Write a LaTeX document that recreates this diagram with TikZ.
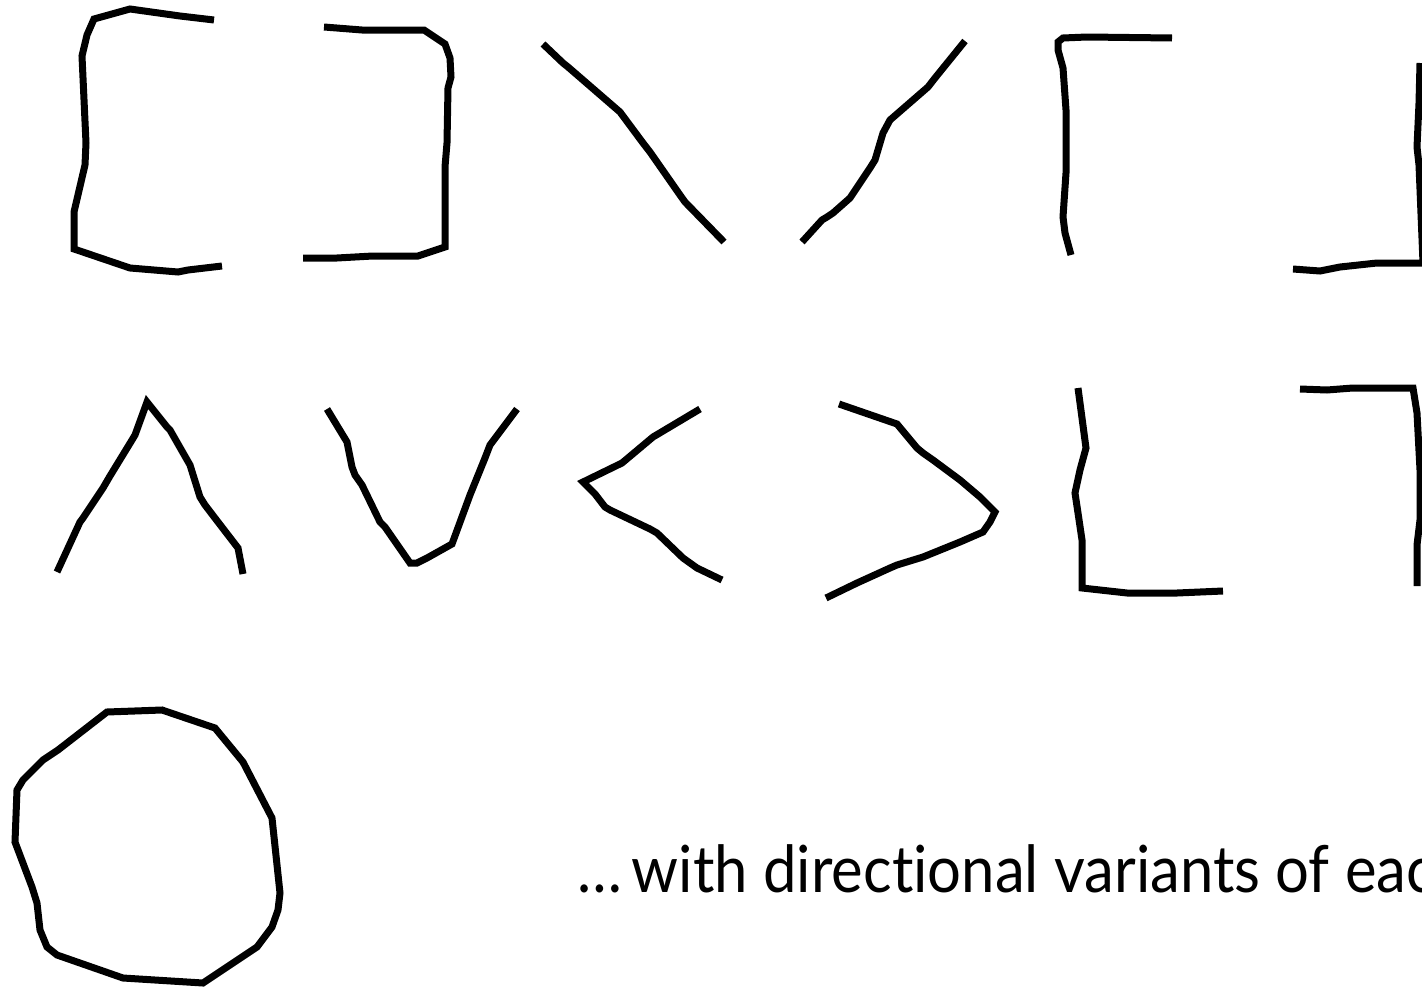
\documentclass[tikz,border=0pt]{standalone}
\usepackage{fontspec}
\setmainfont{Lato}[Ligatures={NoCommon}]
\tikzset{
  ink/.style={line width=7pt, black},
  lbl/.style={inner sep=0pt, font=\fontsize{65}{78}\selectfont},
}
\begin{document}
\begin{tikzpicture}[x=1pt, y=-1pt]
  \useasboundingbox (0,0) rectangle (1422,988);
  \clip (0,0) rectangle (1422,988);
  % top row
  \draw[ink] (214,20) -- (180,16) -- (130,9) -- (94,19) -- (87,35) -- (82,56) -- (86,143) -- (85,165) -- (74,212) -- (74,249) -- (130,268) -- (178,272) -- (188,270) -- (222,266);
  \draw[ink] (324,27) -- (362,30) -- (424,30) -- (445,44) -- (450,58) -- (451,77) -- (448,88) -- (447,143) -- (445,167) -- (445,247) -- (418,256) -- (373,256) -- (337,258) -- (303,258);
  \draw[ink] (543,44) -- (563,63) -- (568,67) -- (620,112) -- (643,143) -- (650,152) -- (680,195) -- (685,202) -- (724,242);
  \draw[ink] (802,242) -- (822,220) -- (827,217) -- (833,213) -- (850,198) -- (870,168) -- (875,160) -- (883,133) -- (890,120) -- (928,87) -- (935,78) -- (965,41);
  \draw[ink] (1172,38) -- (1087,37) -- (1063,38) -- (1058,42) -- (1058,50) -- (1063,68) -- (1066,110) -- (1066,173) -- (1063,217) -- (1065,233) -- (1071,255);
  \draw[ink] (1293,269) -- (1320,271) -- (1330,269) -- (1340,267) -- (1377,263) -- (1423,263) -- (1419,165) -- (1417,147) -- (1419,103) -- (1420,63);
  % middle row
  \draw[ink] (57,572) -- (80,522) -- (83,518) -- (103,488) -- (110,476) -- (132,440) -- (135,435) -- (147,402) -- (167,427) -- (170,430) -- (190,465) -- (200,497) -- (205,505) -- (218,522) -- (238,548) -- (243,574);
  \draw[ink] (327,409) -- (347,442) -- (352,467) -- (355,475) -- (362,485) -- (380,522) -- (385,527) -- (410,563) -- (417,563) -- (427,558) -- (452,544) -- (470,495) -- (485,458) -- (490,445) -- (517,409);
  \draw[ink] (700,409) -- (653,437) -- (622,463) -- (583,482) -- (595,494) -- (605,507) -- (610,510) -- (650,529) -- (657,533) -- (683,558) -- (697,568) -- (722,580);
  \draw[ink] (839,404) -- (897,424) -- (917,448) -- (923,453) -- (933,460) -- (960,480) -- (980,497) -- (995,512) -- (990,522) -- (983,532) -- (960,542) -- (923,557) -- (897,565) -- (890,568) -- (857,583) -- (826,598);
  \draw[ink] (1078,388) -- (1086,448) -- (1080,470) -- (1075,493) -- (1078,513) -- (1082,540) -- (1082,588) -- (1127,593) -- (1177,593) -- (1223,591);
  \draw[ink] (1300,389) -- (1327,390) -- (1353,388) -- (1413,388) -- (1417,413) -- (1420,470) -- (1420,520) -- (1417,545) -- (1417,586);
  % bottom row
  \draw[ink] (107,712) -- (162,710) -- (215,728) -- (243,762) -- (272,818) -- (280,893) -- (278,910) -- (272,927) -- (257,947) -- (203,983) -- (123,978) -- (57,955) -- (47,947) -- (40,930) -- (37,903) -- (32,887) -- (15,842) -- (17,790) -- (23,780) -- (43,760) -- (58,750) -- cycle;
  \node[lbl, anchor=base west] (caption) at (577,892) {\scalebox{0.92}[1]{\dots\,with directional variants of each}};
\end{tikzpicture}
\end{document}
